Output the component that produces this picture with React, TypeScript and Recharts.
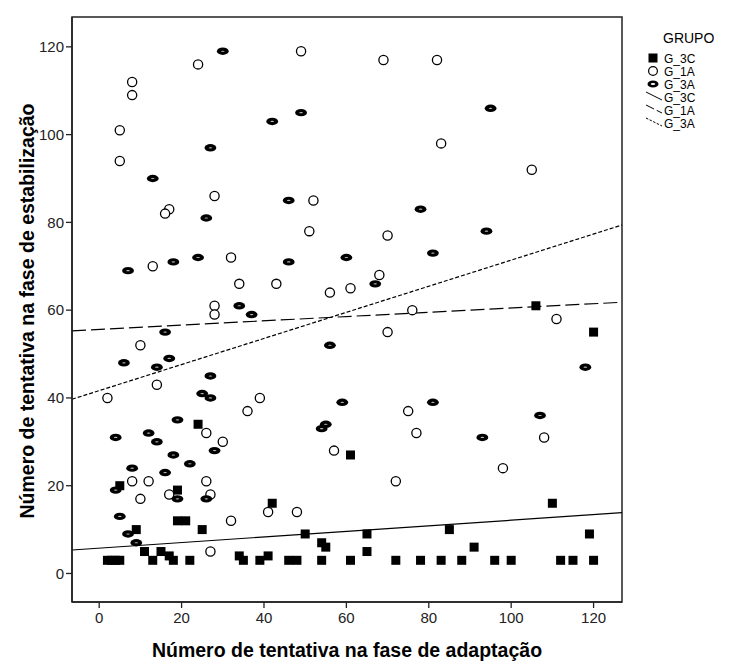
import React from 'react';
import { ScatterChart, Scatter, XAxis, YAxis, ReferenceLine, ReferenceArea } from 'recharts';

const xTicks = [0, 20, 40, 60, 80, 100, 120];
const yTicks = [0, 20, 40, 60, 80, 100, 120];
const xDomain = [-6.6, 126.9];
const yDomain = [-6.5, 126.8];
const legendTitle = 'GRUPO';
const groupNames = ['G_3C', 'G_1A', 'G_3A'];
const xTitle = 'Número de tentativa na fase de adaptação';
const yTitle = 'Número de tentativa na fase de estabilização';

const g3C: [number, number][] = [
  [24, 34], [61, 27], [5, 20], [19, 19], [42, 16], [110, 16], [19, 12], [21, 12], [9, 10], [25, 10],
  [85, 10], [50, 9], [65, 9], [119, 9], [54, 7], [55, 6], [91, 6], [11, 5], [15, 5], [65, 5],
  [17, 4], [34, 4], [41, 4], [2, 3], [3, 3], [4, 3], [5, 3], [13, 3], [18, 3], [22, 3],
  [35, 3], [39, 3], [46, 3], [48, 3], [54, 3], [61, 3], [72, 3], [78, 3], [83, 3], [88, 3],
  [96, 3], [100, 3], [112, 3], [115, 3], [120, 3], [106, 61], [120, 55],
];

const g1A: [number, number][] = [
  [24, 116], [49, 119], [8, 112], [8, 109], [5, 101], [5, 94], [28, 86], [17, 83], [16, 82], [52, 85],
  [51, 78], [13, 70], [32, 72], [34, 66], [43, 66], [56, 64], [61, 65], [28, 61], [28, 59], [69, 117],
  [82, 117], [83, 98], [105, 92], [70, 77], [68, 68], [76, 60], [111, 58], [70, 55], [10, 52], [14, 43],
  [2, 40], [39, 40], [36, 37], [75, 37], [77, 32], [26, 32], [30, 30], [108, 31], [57, 28], [8, 21],
  [12, 21], [26, 21], [98, 24], [72, 21], [17, 18], [27, 18], [10, 17], [41, 14], [48, 14], [32, 12],
  [27, 5],
];

const g3A: [number, number][] = [
  [30, 119], [42, 103], [49, 105], [27, 97], [13, 90], [26, 81], [46, 85], [7, 69], [18, 71], [24, 72],
  [46, 71], [60, 72], [34, 61], [95, 106], [78, 83], [94, 78], [81, 73], [67, 66], [37, 59], [16, 55],
  [56, 52], [6, 48], [14, 47], [17, 49], [27, 45], [25, 41], [27, 40], [59, 39], [19, 35], [4, 31],
  [12, 32], [14, 30], [28, 28], [54, 33], [55, 34], [18, 27], [22, 25], [8, 24], [16, 23], [4, 19],
  [19, 17], [26, 17], [5, 13], [7, 9], [9, 7], [118, 47], [81, 39], [107, 36], [93, 31],
];

// regression line endpoints read at the plot edges
const fit3C: [number, number][] = [[-6.6, 5.35], [126.9, 13.85]];
const fit1A: [number, number][] = [[-6.6, 55.3], [126.9, 61.8]];
const fit3A: [number, number][] = [[-6.6, 39.7], [126.9, 79.4]];

const toPts = (arr: [number, number][]) => arr.map(([x, y]) => ({ x, y }));
const toSeg = (arr: [number, number][]) => arr.map(([x, y]) => ({ x, y }));

const FONT = '"Liberation Sans", Arial, sans-serif';

const SquareShape = (p: any) => (
  <rect x={p.cx - 4.5} y={p.cy - 4.5} width={9} height={9} fill="#000" />
);
const CircleShape = (p: any) => (
  <circle cx={p.cx} cy={p.cy} r={4.6} fill="#fff" stroke="#000" strokeWidth={1.3} />
);
const OvalShape = (p: any) => (
  <g>
    <ellipse cx={p.cx} cy={p.cy} rx={5.9} ry={3.7} fill="#000" />
    <ellipse cx={p.cx} cy={p.cy} rx={1.8} ry={0.6} fill="#bbb" />
  </g>
);

const tickStyle = { fontFamily: FONT, fontSize: 15, fill: '#222' };

export default function App() {
  const legendRows = [
    { kind: 'square', label: groupNames[0] },
    { kind: 'circle', label: groupNames[1] },
    { kind: 'oval', label: groupNames[2] },
    { kind: 'solid', label: groupNames[0] },
    { kind: 'long', label: groupNames[1] },
    { kind: 'short', label: groupNames[2] },
  ];
  const rowY0 = 58;
  const rowStep = 13;
  const symX = 653;
  const textX = 664;
  return (
    <div style={{ position: 'absolute', left: 0, top: 0, width: 755, height: 663, background: '#fff' }}>
      <ScatterChart
        width={755}
        height={663}
        margin={{ top: 17, right: 133, bottom: 0, left: 0 }}
      >
        <XAxis
          type="number"
          dataKey="x"
          domain={xDomain}
          ticks={xTicks}
          allowDataOverflow
          height={61}
          tickSize={6}
          tickMargin={4}
          tick={tickStyle}
          stroke="#222"
          strokeWidth={1.5}
          tickLine={{ stroke: '#222', strokeWidth: 1.3 }}
        />
        <YAxis
          type="number"
          dataKey="y"
          domain={yDomain}
          ticks={yTicks}
          allowDataOverflow
          width={72}
          tickSize={6}
          tickMargin={2}
          tick={tickStyle}
          stroke="#222"
          strokeWidth={1.5}
          tickLine={{ stroke: '#222', strokeWidth: 1.3 }}
        />
        <ReferenceArea
          x1={xDomain[0]}
          x2={xDomain[1]}
          y1={yDomain[0]}
          y2={yDomain[1]}
          fill="none"
          fillOpacity={0}
          stroke="#222"
          strokeWidth={1.5}
          ifOverflow="visible"
        />
        <ReferenceLine segment={toSeg(fit3C)} stroke="#000" strokeWidth={1.2} ifOverflow="visible" />
        <ReferenceLine segment={toSeg(fit1A)} stroke="#000" strokeWidth={1.2} strokeDasharray="14 5" ifOverflow="visible" />
        <ReferenceLine segment={toSeg(fit3A)} stroke="#000" strokeWidth={1.2} strokeDasharray="4 2" ifOverflow="visible" />
        <Scatter name={groupNames[0]} data={toPts(g3C)} shape={SquareShape} isAnimationActive={false} />
        <Scatter name={groupNames[1]} data={toPts(g1A)} shape={CircleShape} isAnimationActive={false} />
        <Scatter name={groupNames[2]} data={toPts(g3A)} shape={OvalShape} isAnimationActive={false} />
      </ScatterChart>
      <svg
        width={755}
        height={663}
        style={{ position: 'absolute', left: 0, top: 0, pointerEvents: 'none' }}
      >
        <text
          x={347}
          y={657}
          textAnchor="middle"
          fontFamily={FONT}
          fontWeight="bold"
          fontSize={19.5}
          fill="#000"
        >
          {xTitle}
        </text>
        <text
          transform="translate(34,311) rotate(-90)"
          textAnchor="middle"
          fontFamily={FONT}
          fontWeight="bold"
          fontSize={19.5}
          fill="#000"
        >
          {yTitle}
        </text>
        <text x={663} y={43} fontFamily={FONT} fontSize={14} fill="#000">
          {legendTitle}
        </text>
        {legendRows.map((r, i) => {
          const cy = rowY0 + i * rowStep;
          let sym: React.ReactNode = null;
          if (r.kind === 'square') sym = <rect x={symX - 4.5} y={cy - 4.5} width={9} height={9} fill="#000" />;
          else if (r.kind === 'circle') sym = <circle cx={symX} cy={cy} r={4.4} fill="#fff" stroke="#000" strokeWidth={1.2} />;
          else if (r.kind === 'oval')
            sym = (
              <g>
                <ellipse cx={symX} cy={cy} rx={5.5} ry={3.6} fill="#000" />
                <ellipse cx={symX} cy={cy} rx={2.3} ry={0.9} fill="#fff" />
              </g>
            );
          else {
            const dash = r.kind === 'long' ? '9 3' : r.kind === 'short' ? '2.5 1.5' : undefined;
            sym = (
              <line
                x1={symX - 7}
                y1={cy - 5}
                x2={symX + 9}
                y2={cy + 3}
                stroke="#000"
                strokeWidth={1}
                strokeDasharray={dash}
              />
            );
          }
          return (
            <g key={i}>
              {sym}
              <text x={textX} y={cy + 4.5} fontFamily={FONT} fontSize={12} fill="#000">
                {r.label}
              </text>
            </g>
          );
        })}
      </svg>
    </div>
  );
}
